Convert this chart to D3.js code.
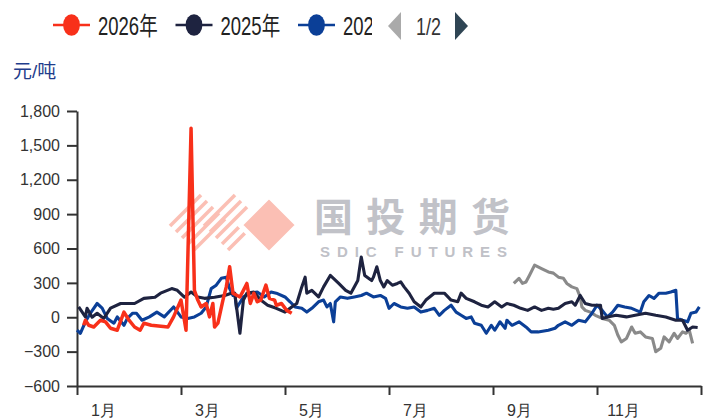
<!DOCTYPE html>
<html>
<head>
<meta charset="utf-8">
<script src="https://cdn.jsdelivr.net/npm/d3@7"></script>
<style>
  body { margin: 0; background: #fff; }
  svg { display: block; font-family: "Liberation Sans", "Noto Sans CJK SC", sans-serif; }
</style>
</head>
<body>
<svg class="svg_parent" width="703" height="420"></svg>
<script>
const seriesNames = ["2026年", "2025年", "2024年", "2023年"];
const seriesColors = ["#f8301a", "#1e2340", "#0b3f97", "#8a8a8a"];
const yTicks = [-600, -300, 0, 300, 600, 900, 1200, 1500, 1800];
const monthLabels = ["1月", "3月", "5月", "7月", "9月", "11月"];

const dates2026 = ["01-05","01-06","01-08","01-11","01-15","01-18","01-21","01-25","01-29","02-01","02-04","02-07","02-09","02-13","02-22","02-25","03-01","03-04","03-07","03-09","03-11","03-13","03-16","03-18","03-20","03-21","03-23","03-26","03-28","03-30","04-01","04-05","04-07","04-09","04-11","04-13","04-15","04-17","04-20","04-22","04-25","04-26","04-29","05-02","05-05"];
const values2026 = [-70,-26,-70,-85,-26,-40,-96,-113,45,-26,-85,-113,-52,-70,-85,3,150,-113,1650,235,150,90,120,3,120,-85,-52,150,265,440,210,177,235,295,120,210,135,150,280,165,150,105,120,60,35];

const dates2025 = ["01-02","01-06","01-07","01-10","01-13","01-17","01-21","01-27","02-04","02-09","02-15","02-18","02-24","02-27","03-03","03-07","03-11","03-15","03-21","03-27","03-31","04-02","04-05","04-07","04-09","04-13","04-17","04-21","04-26","05-01","05-05","05-08","05-11","05-13","05-14","05-17","05-21","05-24","05-28","06-02","06-06","06-09","06-13","06-15","06-17","06-21","06-22","06-24","06-26","06-28","06-30","07-03","07-06","07-08","07-10","07-13","07-16","07-20","07-23","07-28","08-03","08-07","08-11","08-13","08-16","08-21","08-25","08-29","09-02","09-06","09-09","09-13","09-17","09-21","09-25","09-29","10-03","10-06","10-09","10-13","10-17","10-19","10-22","10-25","10-29","11-03","11-04","11-07","11-12","11-18","11-23","11-29","12-05","12-11","12-17","12-21","12-24","12-27","12-30"];
const values2025 = [90,3,78,0,35,-10,80,120,120,165,175,210,250,235,175,220,177,165,175,190,210,210,-140,150,210,220,150,105,78,45,90,120,265,350,210,235,177,265,365,295,235,210,320,525,365,320,350,440,320,265,320,280,295,308,265,210,135,90,150,210,210,150,135,210,165,135,105,90,135,90,120,105,78,60,90,60,78,70,78,120,135,105,190,120,105,105,-10,3,17,3,17,35,17,3,-26,-26,-113,-85,-90];

const dates2024 = ["01-01","01-03","01-06","01-09","01-13","01-16","01-19","01-23","01-25","01-29","01-31","02-03","02-05","02-08","02-12","02-16","02-20","02-25","03-01","03-05","03-09","03-13","03-16","03-19","03-22","03-25","03-28","03-30","04-01","04-02","04-03","04-07","04-11","04-15","04-19","04-23","04-26","05-01","05-04","05-07","05-11","05-14","05-17","05-21","05-24","05-26","05-28","05-30","05-31","06-03","06-07","06-11","06-15","06-18","06-22","06-26","06-29","07-01","07-04","07-08","07-12","07-16","07-20","07-24","07-28","07-31","08-03","08-07","08-10","08-13","08-16","08-19","08-21","08-25","08-28","08-31","09-02","09-05","09-08","09-09","09-12","09-16","09-20","09-23","09-27","10-03","10-07","10-09","10-13","10-17","10-21","10-25","10-29","11-01","11-04","11-07","11-10","11-13","11-17","11-21","11-26","11-28","12-01","12-04","12-07","12-11","12-14","12-17","12-18","12-21","12-24","12-26","12-29","12-31"];
const values2024 = [-113,-140,-40,35,120,80,-10,-52,3,-70,-10,35,35,-26,3,45,3,90,3,-10,3,35,90,250,280,340,350,250,190,210,78,177,210,220,177,220,210,177,135,90,78,45,78,135,150,90,120,-40,135,177,165,177,190,210,177,190,165,78,120,90,78,90,45,60,78,17,60,105,45,17,-10,3,-52,-70,-140,-70,-113,-40,-96,-26,-70,-40,-85,-128,-128,-113,-96,-70,-40,-70,-26,-40,35,105,60,3,45,105,90,78,45,135,190,165,210,210,220,235,-10,-26,-40,35,45,90];

const dates2023 = ["09-13","09-16","09-18","09-20","09-22","09-25","09-29","10-03","10-06","10-09","10-12","10-14","10-17","10-20","10-22","10-23","10-25","10-28","10-31","11-04","11-08","11-11","11-13","11-15","11-18","11-21","11-23","11-26","11-29","12-03","12-05","12-08","12-10","12-13","12-16","12-18","12-21","12-23","12-25","12-27"];
const values2023 = [295,340,295,308,365,455,425,395,385,350,340,295,265,250,177,90,60,45,17,-10,-26,-70,-155,-215,-185,-85,-140,-128,-172,-185,-300,-270,-172,-215,-140,-185,-128,-140,-113,-228];

const svg = d3.select(".svg_parent");
const margin = { top: 111, right: 2, bottom: 34, left: 77 };
const width = 703 - margin.left - margin.right;
const height = 420 - margin.top - margin.bottom;

const parseMD = d3.timeParse("%m-%d");
const dayOfYear = (s) => {
  const d = parseMD(s);
  return d3.timeDay.count(d3.timeYear(d), d);
};
// every month gets the same width on this axis
const monthStarts = d3.range(13).map((m) => d3.timeDay.count(new Date(1900, 0, 1), new Date(1900, m, 1)));

const x = d3.scaleLinear()
  .domain(monthStarts)
  .range(monthStarts.map((d, i) => (i * width) / 12));
const y = d3.scaleLinear().domain([-600, 1800]).range([height, 0]);

// watermark
const wm = svg.append("g").attr("class", "watermark");
const logoFill = "#fbbfb4";
[[170, 226], [204, 226]].forEach(([lx, ly]) => {
  for (let k = 0; k < 5; k++) {
    wm.append("line")
      .attr("x1", lx + k * 6).attr("y1", ly + k * 6)
      .attr("x2", lx + k * 6 + 31).attr("y2", ly + k * 6 - 31)
      .attr("stroke", logoFill).attr("stroke-width", 3.6);
  }
});
wm.append("path")
  .attr("d", "M240,225L269,196L298,225L269,254Z")
  .attr("fill", logoFill).attr("stroke", "#fff").attr("stroke-width", 5);
wm.append("text")
  .attr("x", 314).attr("y", 231)
  .attr("textLength", 196).attr("lengthAdjust", "spacing")
  .style("font-family", "'Noto Sans CJK SC'").style("font-size", "39px").style("font-weight", "bold")
  .attr("fill", "#c1c2c8").text("国投期货");
wm.append("text")
  .attr("x", 320).attr("y", 257)
  .attr("textLength", 187).attr("lengthAdjust", "spacing")
  .style("font-size", "15px").style("font-weight", "bold")
  .attr("fill", "#c0c1c7").text("SDIC FUTURES");

const g = svg.append("g").attr("transform", `translate(${margin.left},${margin.top})`);

// axes
const yAxis = g.append("g")
  .call(d3.axisLeft(y).tickValues(yTicks).tickSize(10).tickPadding(7).tickSizeOuter(0).tickFormat(d3.format(",")));
const xAxis = g.append("g")
  .attr("transform", `translate(0,${height})`)
  .call(d3.axisBottom(x).tickValues(monthStarts.filter((d, i) => i % 2 === 0)).tickSize(9).tickSizeOuter(0).tickFormat(""));
const xLabels = g.append("g")
  .attr("transform", `translate(0,${height})`)
  .call(d3.axisBottom(x)
    .tickValues(d3.range(0, 12, 2).map((i) => (monthStarts[i] + monthStarts[i + 1]) / 2))
    .tickSize(0).tickPadding(19)
    .tickFormat((d, i) => monthLabels[i]));
xLabels.select(".domain").remove();
[yAxis, xAxis].forEach((a) => {
  a.select(".domain").attr("stroke", "#333").attr("stroke-width", 2);
  a.selectAll(".tick line").attr("stroke", "#333").attr("stroke-width", 2);
});
[yAxis, xLabels].forEach((a) => {
  a.selectAll("text").style("font-size", "16px").attr("fill", "#333");
});

// lines
const allDates = [dates2026, dates2025, dates2024, dates2023];
const allValues = [values2026, values2025, values2024, values2023];
const series = seriesNames.map((name, i) => ({
  name,
  color: seriesColors[i],
  points: allDates[i].map((d, j) => ({ day: dayOfYear(d), value: allValues[i][j] })),
}));

const line = d3.line()
  .x((d) => x(d.day))
  .y((d) => y(d.value));

g.selectAll(".series")
  .data(series.slice().reverse())
  .enter()
  .append("path")
  .attr("class", "series")
  .attr("d", (d) => line(d.points))
  .attr("fill", "none")
  .attr("stroke", (d) => d.color)
  .attr("stroke-width", (d) => (d.name === "2026年" ? 3.5 : 3.1))
  .attr("stroke-linejoin", "round");

// y axis name
svg.append("text")
  .attr("x", 13).attr("y", 78)
  .style("font-size", "19px")
  .attr("fill", "#1f3d8c")
  .text("元/吨");

// legend (page 1 of 2)
svg.append("clipPath").attr("id", "legendClip")
  .append("rect").attr("x", 0).attr("y", 0).attr("width", 372).attr("height", 50);
const legend = svg.append("g").attr("clip-path", "url(#legendClip)");
const legendItems = legend.selectAll(".legend-item")
  .data(series.slice(0, 3))
  .enter()
  .append("g")
  .attr("class", "legend-item")
  .attr("transform", (d, i) => `translate(${53 + i * 122.5},25)`);
legendItems.append("line")
  .attr("x1", 0).attr("x2", 37)
  .attr("stroke", (d) => d.color).attr("stroke-width", 2.5);
legendItems.append("ellipse")
  .attr("cx", 18.5).attr("rx", 8.4).attr("ry", 10.8)
  .attr("fill", (d) => d.color);
legendItems.append("text")
  .attr("transform", "translate(45,10) scale(0.74,1)")
  .style("font-size", "25px")
  .attr("fill", "#222")
  .text((d) => d.name);

svg.append("path").attr("d", "M401,12L401,40L388,26Z").attr("fill", "#aaa");
svg.append("path").attr("d", "M455,12L455,40L468,26Z").attr("fill", "#2f4554");
svg.append("text")
  .attr("transform", "translate(428.5,35) scale(0.78,1)")
  .attr("text-anchor", "middle")
  .style("font-size", "23px")
  .attr("fill", "#333")
  .text("1/2");
</script>
</body>
</html>
